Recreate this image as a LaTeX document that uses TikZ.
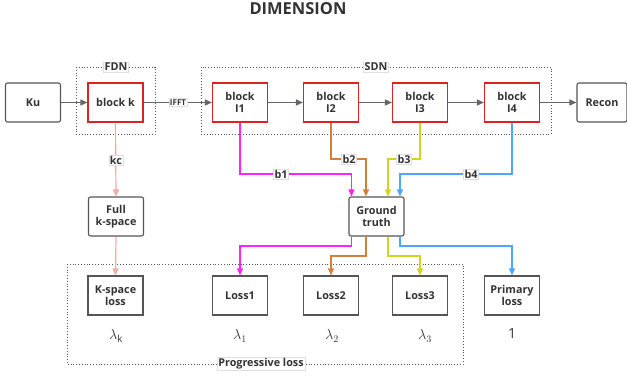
\documentclass[tikz,border=0pt]{standalone}
\usepackage{fontspec}
\setmainfont{Open Sans}
\usetikzlibrary{arrows.meta}
\definecolor{txt}{HTML}{333333}
\definecolor{edge}{HTML}{555555}
\definecolor{redb}{HTML}{DD2222}
\definecolor{mag}{HTML}{FF22FF}
\definecolor{brn}{HTML}{D2813A}
\definecolor{yel}{HTML}{D4D420}
\definecolor{blu}{HTML}{4DA6FF}
\definecolor{pnk}{HTML}{F4A8A8}
\definecolor{arr}{HTML}{666666}
\begin{document}
\begin{tikzpicture}[x=1pt,y=-1pt,
  every node/.style={font=\fontsize{10.8}{12}\selectfont\bfseries, text=txt, align=center},
  box/.style={draw=edge, line width=1.1pt, minimum width=55pt, minimum height=39pt, inner sep=0pt},
  rbox/.style={box, rounded corners=2pt},
  redbox/.style={draw=redb, line width=1.1pt, minimum width=55pt, minimum height=39pt, inner sep=0pt},
  grp/.style={draw=edge, dotted, line width=0.8pt},
  lbl/.style={fill=white, draw=gray!25, line width=0.4pt, inner sep=1pt},
  main/.style={draw=arr, line width=1.4pt, -{Triangle[width=6pt,length=7pt]}},
  conn/.style={line width=1.2pt, -{Triangle[width=6pt,length=7pt]}},
  lam/.style={font=\fontsize{14}{14}\selectfont}
]
\useasboundingbox (0,0) rectangle (627,377);

\node[font=\fontsize{16.5}{17}\selectfont\bfseries] (title) at (298,9) {DIMENSION};

% groups
\draw[grp] (76,67) rectangle (155,134);
\draw[grp] (201,67) rectangle (551,134);
\draw[grp] (67,264) rectangle (463,364);

% top row
\node[rbox] (ku) at (33,102.5) {Ku};
\node[redbox] (bk) at (115.5,102.5) {block k};
\node[redbox] (i1) at (240,102.5) {block\\I1};
\node[redbox] (i2) at (331,102.5) {block\\I2};
\node[redbox] (i3) at (420,102.5) {block\\I3};
\node[redbox] (i4) at (512,102.5) {block\\I4};
\node[rbox, minimum width=50pt] (recon) at (602,102.5) {Recon};

% middle
\node[rbox] (fk) at (116,216.5) {Full\\k-space};
\node[rbox] (gt) at (376.5,216.5) {Ground\\truth};

% losses
\node[box] (kl) at (115.5,295.5) {K-space\\loss};
\node[box] (l1) at (240,295.5) {Loss1};
\node[box] (l2) at (331,295.5) {Loss2};
\node[box] (l3) at (420,295.5) {Loss3};
\node[box] (pl) at (512,295.5) {Primary\\loss};

% lambdas
\node[lam] (lk) at (116,336) {$\lambda_{\mathrm{k}}$};
\node[lam] (la1) at (240,336) {$\lambda_1$};
\node[lam] (la2) at (332,336) {$\lambda_2$};
\node[lam] (la3) at (425,336) {$\lambda_3$};
\node[lam] (lone) at (512,334) {1};

% main arrows
\draw[main] (ku) -- (bk);
\draw[main] (bk) -- (i1);
\draw[main] (i1) -- (i2);
\draw[main] (i2) -- (i3);
\draw[main] (i3) -- (i4);
\draw[main] (i4) -- (recon);

% kc
\draw[conn, draw=pnk] (bk.south) -- (fk.north);
\draw[conn, draw=pnk] (fk.south) -- (kl.north);

% into ground truth
\coordinate (gm) at ([xshift=3pt]gt.north west);
\coordinate (gb) at ([xshift=-10.5pt]gt.north);
\coordinate (gy) at ([xshift=11.5pt]gt.north);
\coordinate (gu) at ([xshift=23.5pt]gt.north);
\draw[conn, draw=mag] (i1.south) |- (gm |- 0,174) -- (gm);
\draw[conn, draw=brn] (i2.south) |- (gb |- 0,159) -- (gb);
\draw[conn, draw=yel] (i3.south) |- (gy |- 0,159) -- (gy);
\draw[conn, draw=blu] (i4.south) |- (gu |- 0,174) -- (gu);

% out of ground truth
\coordinate (om) at ([xshift=3pt]gt.south west);
\coordinate (ob) at ([xshift=-10.5pt]gt.south);
\coordinate (oy) at ([xshift=11.5pt]gt.south);
\coordinate (ou) at ([xshift=23.5pt]gt.south);
\draw[conn, draw=mag] (om) |- (l1.north |- 0,246) -- (l1.north);
\draw[conn, draw=brn] (ob) |- (l2.north |- 0,256) -- (l2.north);
\draw[conn, draw=yel] (oy) |- (l3.north |- 0,256) -- (l3.north);
\draw[conn, draw=blu] (ou) |- (pl.north |- 0,246) -- (pl.north);

% labels
\node[lbl] (fdn) at (116,67) {FDN};
\node[lbl] (sdn) at (376,67) {SDN};
\node[lbl] (prog) at (261,364) {Progressive loss};
\node[lbl, font=\fontsize{8}{8}\selectfont\bfseries] (ifft) at (178,102.5) {IFFT};
\node[lbl] (kc) at (116,160) {kc};
\node[lbl] (b1) at (281,174) {b1};
\node[lbl] (b2) at (349,159) {b2};
\node[lbl] (b3) at (404,159) {b3};
\node[lbl] (b4) at (471,174) {b4};
\end{tikzpicture}
\end{document}
